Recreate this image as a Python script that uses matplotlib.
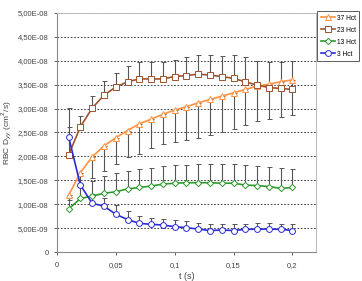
import numpy as np
import matplotlib
matplotlib.use("Agg")
import matplotlib.pyplot as plt
from matplotlib.ticker import FuncFormatter

# time points (s)
t = [0.01, 0.02, 0.03, 0.04, 0.05, 0.06, 0.07, 0.08, 0.09, 0.10,
     0.11, 0.12, 0.13, 0.14, 0.15, 0.16, 0.17, 0.18, 0.19, 0.20]

# RBC Dyy values, in units of 1e-8 cm2/s
hct37 = [1.19, 1.66, 1.99, 2.22, 2.39, 2.54, 2.68, 2.78, 2.88, 2.97,
         3.04, 3.12, 3.19, 3.26, 3.33, 3.40, 3.47, 3.51, 3.56, 3.60]
hct23 = [2.03, 2.62, 3.01, 3.28, 3.45, 3.56, 3.62, 3.62, 3.62, 3.67,
         3.69, 3.72, 3.70, 3.67, 3.63, 3.56, 3.49, 3.44, 3.42, 3.40]
hct13 = [0.90, 1.12, 1.17, 1.23, 1.26, 1.32, 1.35, 1.38, 1.42, 1.44,
         1.45, 1.45, 1.45, 1.44, 1.44, 1.40, 1.39, 1.37, 1.33, 1.35]
hct3 = [2.41, 1.40, 1.02, 0.96, 0.79, 0.68, 0.60, 0.58, 0.565, 0.53,
        0.51, 0.48, 0.45, 0.46, 0.45, 0.475, 0.48, 0.48, 0.475, 0.45]

# one-sided error bars (37 Hct down, others up), same units
err37 = [0.10, 0.25, 0.45, 0.52, 0.55, 0.56, 0.62, 0.61, 0.62, 0.66,
         0.70, 0.74, 0.74, 0.74, 0.75, 0.75, 0.74, 0.73, 0.74, 0.73]
err23 = [0.99, 0.23, 0.26, 0.30, 0.30, 0.32, 0.35, 0.36, 0.36, 0.35,
         0.38, 0.40, 0.42, 0.43, 0.49, 0.51, 0.51, 0.54, 0.56, 0.60]
err13 = [0.25, 0.30, 0.32, 0.35, 0.39, 0.38, 0.38, 0.37, 0.38, 0.38,
         0.37, 0.39, 0.39, 0.40, 0.40, 0.42, 0.41, 0.41, 0.42, 0.39]
err3 = [0.20, 0.18, 0.20, 0.18, 0.20, 0.17, 0.15, 0.13, 0.13, 0.13,
        0.13, 0.13, 0.14, 0.13, 0.14, 0.12, 0.12, 0.12, 0.12, 0.13]

labels = ["37 Hct", "23 Hct", "13 Hct", "3 Hct"]
colors = ["#FF9240", "#A0522D", "#2E9A2E", "#2B2BD8"]
markers = ["^", "s", "D", "o"]

plt.rcParams['font.family'] = ['Liberation Sans', 'DejaVu Sans']

fig = plt.figure(figsize=(3.62, 2.81), dpi=100)
ax = fig.add_axes([0.157, 0.103, 0.716, 0.851])

scale = 1e-8
t = np.array(t)
series = [hct37, hct23, hct13, hct3]
errs = [err37, err23, err13, err3]
sides = ["down", "up", "up", "up"]

handles = []
for y, e, side, c, m, lab in zip(series, errs, sides, colors, markers, labels):
    y = np.array(y) * scale
    e = np.array(e) * scale
    if side == "up":
        yerr = [np.zeros_like(e), e]
    else:
        yerr = [e, np.zeros_like(e)]
    ax.errorbar(t, y, yerr=yerr, fmt="none", ecolor="#555555",
                elinewidth=0.8, capsize=1.8, capthick=0.7, zorder=2)
    ms = 3.2 if m == "D" else 4.2
    h, = ax.plot(t, y, color=c, marker=m, markersize=ms, markerfacecolor="white",
                 markeredgecolor=c, markeredgewidth=0.7, linewidth=1.2,
                 label=lab, zorder=3)
    handles.append(h)

ax.set_xlim(0, 0.22)
ax.set_ylim(0, 5e-8)
ax.set_xticks([0, 0.05, 0.1, 0.15, 0.2])
ax.set_yticks(np.arange(0, 5.01e-8, 0.5e-8))


def yfmt(v, pos):
    if abs(v) < 1e-12:
        return "0"
    return ("%.2E" % v).replace(".", ",").replace("E-0", "E-0")


def xfmt(v, pos):
    if abs(v) < 1e-12:
        return "0"
    return ("%g" % v).replace(".", ",")


ax.yaxis.set_major_formatter(FuncFormatter(yfmt))
ax.xaxis.set_major_formatter(FuncFormatter(xfmt))
ax.tick_params(labelsize=5.5, colors="#444444", length=2.5, width=0.6)
ax.tick_params(axis="x", pad=5)

ax.yaxis.grid(True, linestyle=(0, (2, 2)), color="#222222", linewidth=0.6)
ax.set_axisbelow(True)

for s in ["top", "right"]:
    ax.spines[s].set_color("#BBBBBB")
    ax.spines[s].set_linewidth(0.7)
for s in ["left", "bottom"]:
    ax.spines[s].set_color("#888888")
    ax.spines[s].set_linewidth(0.8)

ax.set_ylabel("RBC D$_{yy}$ (cm$^2$/s)", fontsize=6, color="#444444", labelpad=3)
ax.set_xlabel("t (s)", fontsize=6.5, color="#444444", labelpad=2)

leg = fig.legend(handles=handles, loc="upper left", bbox_to_anchor=(0.877, 0.96),
                 fontsize=4.8, frameon=True, fancybox=False, borderpad=0.5,
                 handlelength=2.2, handletextpad=0.2, labelspacing=0.75,
                 borderaxespad=0)
leg.get_frame().set_edgecolor("#333333")
leg.get_frame().set_linewidth(0.7)

fig.savefig("out.png", dpi=100)
